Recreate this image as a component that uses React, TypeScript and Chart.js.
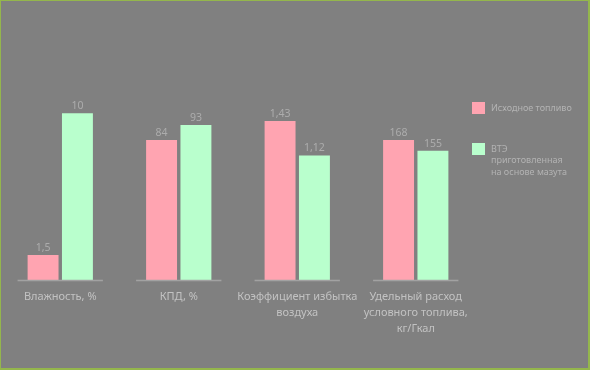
import React, { useEffect, useRef } from "react";
import { Chart, registerables } from "chart.js";

Chart.register(...registerables);

const categories: string[][] = [
  ["Влажность, %"],
  ["КПД, %"],
  ["Коэффициент избытка", "воздуха"],
  ["Удельный расход", "условного топлива,", "кг/Гкал"],
];
const initialFuel = [1.5, 84, 1.43, 168];
const emulsionFuel = [10, 93, 1.12, 155];
// each category is drawn on its own scale (0 .. max)
const groupScaleMax = [12, 120, 1.8, 240];
const seriesNames = ["Исходное топливо", ["ВТЭ", "приготовленная", "на основе мазута"]];

const PINK = "#ffa4b1";
const GREEN = "#b9ffcd";
const TEXT = "#c2c2c2";
const BG = "#808080";

const fmt = (v: number) => String(v).replace(".", ",");

const overlayPlugin = {
  id: "overlay",
  afterDatasetsDraw(chart: any) {
    const ctx = chart.ctx;
    const x = chart.scales.x;
    const area = chart.chartArea;
    ctx.save();
    // per-category baseline segments
    ctx.strokeStyle = "#a2a2a2";
    ctx.lineWidth = 1.5;
    const half = (x.getPixelForValue(1) - x.getPixelForValue(0)) * 0.36;
    categories.forEach((_, i) => {
      const c = x.getPixelForValue(i);
      ctx.beginPath();
      ctx.moveTo(c - half, area.bottom + 0.5);
      ctx.lineTo(c + half, area.bottom + 0.5);
      ctx.stroke();
    });
    // value labels
    ctx.fillStyle = "#acacac";
    ctx.font = '10.5px "Noto Sans"';
    ctx.textAlign = "center";
    ctx.textBaseline = "bottom";
    const raw = [initialFuel, emulsionFuel];
    chart.data.datasets.forEach((_: any, di: number) => {
      const meta = chart.getDatasetMeta(di);
      meta.data.forEach((bar: any, i: number) => {
        ctx.fillText(fmt(raw[di][i]), bar.x, bar.y - 2);
      });
    });
    // legend
    const lx = area.right - 3;
    const colors = [PINK, GREEN];
    const tops = [101, 142];
    ctx.textAlign = "left";
    ctx.textBaseline = "middle";
    ctx.font = '9px "Noto Sans"';
    seriesNames.forEach((name, k) => {
      ctx.fillStyle = colors[k];
      ctx.fillRect(lx, tops[k], 13, 12);
      ctx.fillStyle = "#b2b2b2";
      const lines = Array.isArray(name) ? name : [name];
      lines.forEach((ln, j) => {
        ctx.fillText(ln, lx + 19, tops[k] + 6 + j * 11.7);
      });
    });
    ctx.restore();
  },
};

export default function App() {
  const ref = useRef<HTMLCanvasElement | null>(null);
  useEffect(() => {
    document.body.style.margin = "0";
    const norm = (arr: number[]) => arr.map((v, i) => v / groupScaleMax[i]);
    const chart = new Chart(ref.current as HTMLCanvasElement, {
      type: "bar",
      data: {
        labels: categories,
        datasets: [
          {
            label: "Исходное топливо",
            data: norm(initialFuel),
            backgroundColor: PINK,
            categoryPercentage: 0.58,
            barPercentage: 0.9,
          },
          {
            label: "ВТЭ приготовленная на основе мазута",
            data: norm(emulsionFuel),
            backgroundColor: GREEN,
            categoryPercentage: 0.58,
            barPercentage: 0.9,
          },
        ],
      },
      options: {
        responsive: false,
        animation: false,
        layout: { padding: { top: 79, left: 0, right: 113, bottom: 0 } },
        plugins: { legend: { display: false }, tooltip: { enabled: false } },
        scales: {
          x: {
            grid: { display: false, drawTicks: false },
            border: { display: false },
            ticks: {
              color: TEXT,
              font: { family: "Noto Sans", size: 11, lineHeight: 1.44 },
              padding: 9,
              maxRotation: 0,
              autoSkip: false,
            },
            afterFit: (s: any) => {
              s.height = 88;
            },
          },
          y: { display: false, min: 0, max: 1 },
        },
      },
      plugins: [overlayPlugin],
    });
    return () => chart.destroy();
  }, []);
  return (
    <div
      style={{
        width: 590,
        height: 370,
        boxSizing: "border-box",
        background: BG,
        borderTop: "1px solid #94b64c",
        borderLeft: "1px solid #94b64c",
        borderRight: "2px solid #94b64c",
        borderBottom: "2px solid #94b64c",
      }}
    >
      <canvas ref={ref} width={587} height={367} style={{ display: "block" }} />
    </div>
  );
}
